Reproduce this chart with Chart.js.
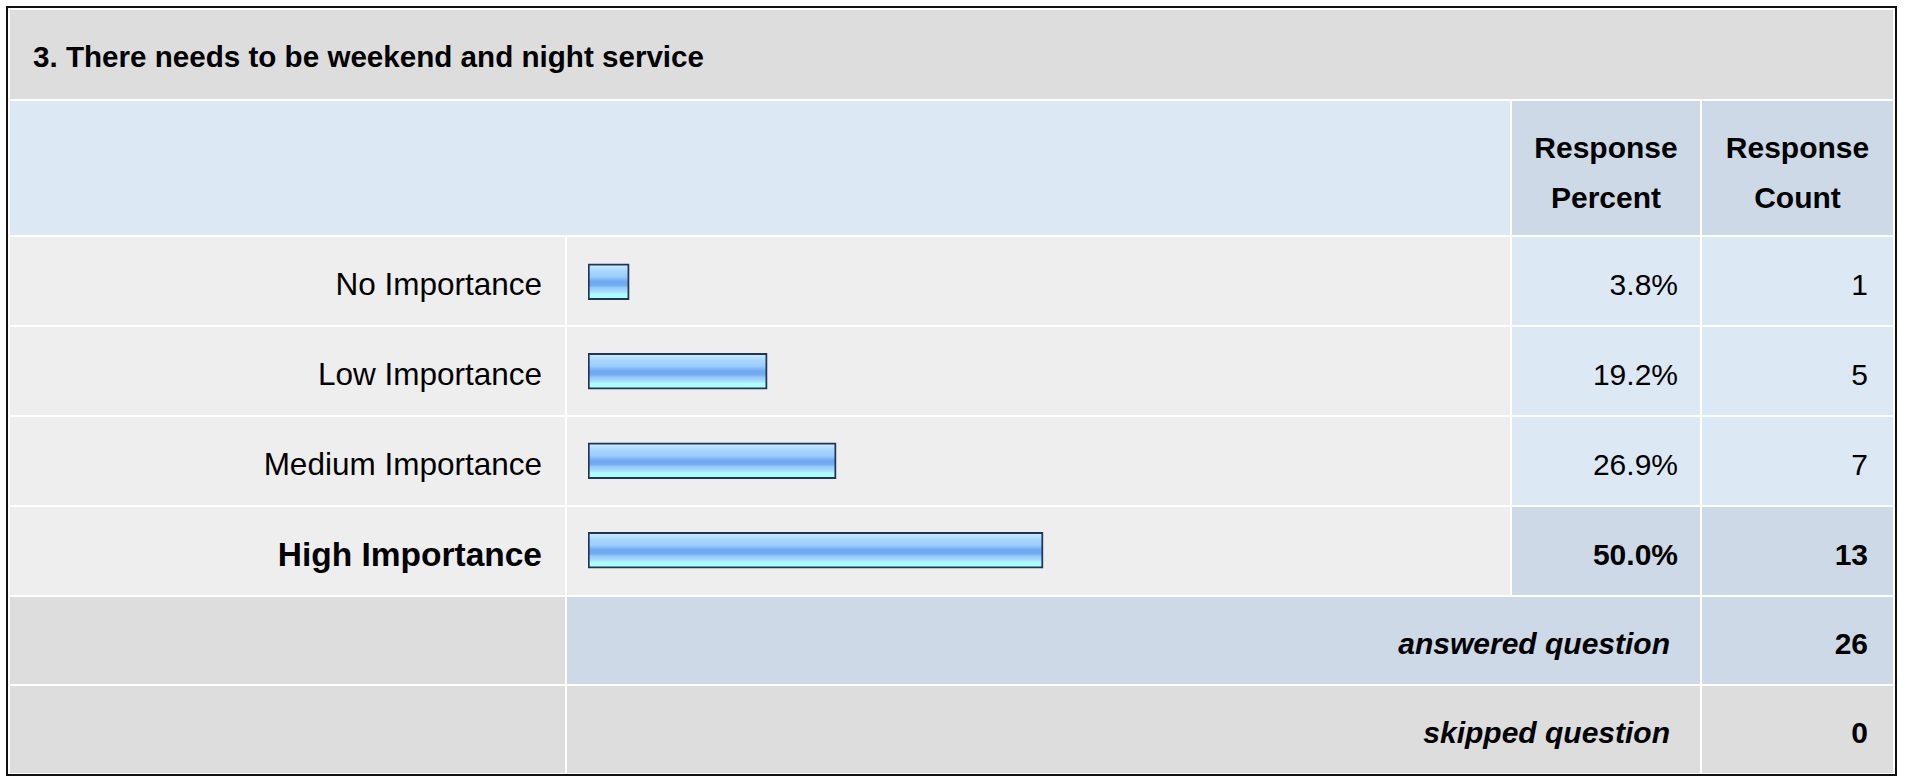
<!DOCTYPE html>
<html>
<head>
<meta charset="utf-8">
<script src="https://cdn.jsdelivr.net/npm/chart.js@4.4.1/dist/chart.umd.min.js"></script>
<style>
  html, body { margin: 0; padding: 0; background: #fff; }
  body { width: 1907px; height: 777px; position: relative; overflow: hidden;
         font-family: "Liberation Sans", Arial, sans-serif; color: #000; }
  #frame { position: absolute; left: 6px; top: 6px; width: 1891px; height: 770px;
           border: 2px solid #111; box-sizing: border-box; }
  .cell { position: absolute; display: flex; align-items: center; box-sizing: border-box;
          font-size: 30px; white-space: nowrap; }
  .right { justify-content: flex-end; }
  .center { justify-content: center; text-align: center; }
  #bars { position: absolute; left: 588px; top: 237px; width: 903px; height: 358px; }
</style>
</head>
<body>
<div id="frame"></div>
<div id="bars"><canvas id="bar-chart"></canvas></div>
<script>
// survey data
const title = "3. There needs to be weekend and night service";
const categories = ["No Importance", "Low Importance", "Medium Importance", "High Importance"];
const percents = [3.8, 19.2, 26.9, 50.0];
const counts = [1, 5, 7, 13];
const answeredCount = 26;
const skippedCount = 0;

// table grid (px)
const colX = [10, 567, 1512, 1702];
const colW = [555, 943, 188, 191];
const rowTop = 237, rowH = 88, rowGap = 2;

const GREY = "#dddddd", LIGHT = "#eeeeee", BLUE = "#dde8f5", DARK = "#cdd9e6";

function cell(x, y, w, h, bg, text, cls, style) {
  const d = document.createElement("div");
  d.className = "cell " + (cls || "");
  d.style.left = x + "px";
  d.style.top = y + "px";
  d.style.width = w + "px";
  d.style.height = h + "px";
  d.style.background = bg;
  if (style) Object.assign(d.style, style);
  if (text !== undefined) d.innerHTML = text;
  document.body.insertBefore(d, document.getElementById("bars"));
  return d;
}

// title + header
cell(10, 10, 1883, 89, GREY, title, "", { fontWeight: "bold", paddingLeft: "23px", paddingTop: "5px", fontSize: "29.6px" });
cell(10, 101, 1500, 134, BLUE);
cell(colX[2], 101, colW[2], 134, DARK, "Response<br>Percent", "center", { fontWeight: "bold", lineHeight: "50px", paddingTop: "9px" });
cell(colX[3], 101, colW[3], 134, DARK, "Response<br>Count", "center", { fontWeight: "bold", lineHeight: "50px", paddingTop: "9px" });

// answer rows (top answer is highlighted)
const maxPct = Math.max(...percents);
categories.forEach((name, i) => {
  const y = rowTop + i * (rowH + rowGap);
  const top = percents[i] === maxPct;
  const fw = top ? "bold" : "normal";
  cell(colX[0], y, colW[0], rowH, LIGHT, name, "right", { paddingRight: "23px", paddingTop: "7px", fontWeight: fw, fontSize: top ? "33.5px" : "31.5px" });
  cell(colX[1], y, colW[1], rowH, LIGHT);
  cell(colX[2], y, colW[2], rowH, top ? DARK : BLUE, percents[i].toFixed(1) + "%", "right", { paddingRight: "22px", paddingTop: "7px", fontWeight: fw });
  cell(colX[3], y, colW[3], rowH, top ? DARK : BLUE, String(counts[i]), "right", { paddingRight: "25px", paddingTop: "7px", fontWeight: fw });
});

// summary rows
const sumY = rowTop + 4 * (rowH + rowGap);
const sumText = { paddingRight: "30px", paddingTop: "6px", fontWeight: "bold", fontStyle: "italic" };
const sumNum = { paddingRight: "25px", paddingTop: "6px", fontWeight: "bold" };
cell(colX[0], sumY, colW[0], 87, GREY);
cell(colX[1], sumY, 1133, 87, DARK, "answered question", "right", sumText);
cell(colX[3], sumY, colW[3], 87, DARK, String(answeredCount), "right", sumNum);
cell(colX[0], sumY + 89, colW[0], 87, GREY);
cell(colX[1], sumY + 89, 1133, 87, GREY, "skipped question", "right", sumText);
cell(colX[3], sumY + 89, colW[3], 87, GREY, String(skippedCount), "right", sumNum);

// bars
const BAR_H = 36;
function barFill(ctx) {
  const chart = ctx.chart;
  const ys = chart.scales && chart.scales.y;
  if (!ys || ctx.dataIndex === undefined) return "#9ccdff";
  const yc = ys.getPixelForValue(ctx.dataIndex);
  if (!isFinite(yc)) return "#9ccdff";
  const g = chart.ctx.createLinearGradient(0, yc - BAR_H / 2, 0, yc + BAR_H / 2);
  g.addColorStop(0.0, "#d4ecff");
  g.addColorStop(0.12, "#bce1ff");
  g.addColorStop(0.2, "#a8d6ff");
  g.addColorStop(0.36, "#9acdff");
  g.addColorStop(0.44, "#7fb6f5");
  g.addColorStop(0.5, "#70a8ef");
  g.addColorStop(0.6, "#74acf1");
  g.addColorStop(0.66, "#92c8fd");
  g.addColorStop(0.74, "#a2d6ff");
  g.addColorStop(0.8, "#abe6ff");
  g.addColorStop(0.84, "#aefcff");
  g.addColorStop(1.0, "#aaffff");
  return g;
}

const barChart = document.querySelector("#bar-chart").getContext("2d");
const myChart = new Chart(barChart, {
  type: "bar",
  data: {
    labels: categories,
    datasets: [
      {
        label: "Response Percent",
        data: percents,
        base: -0.8,
        backgroundColor: barFill,
        borderColor: "#1f3658",
        borderWidth: 2,
        borderSkipped: false,
        barThickness: BAR_H,
      },
    ],
  },
  options: {
    indexAxis: "y",
    responsive: true,
    maintainAspectRatio: false,
    devicePixelRatio: 1,
    animation: false,
    layout: { padding: 0 },
    plugins: { legend: { display: false }, tooltip: { enabled: false } },
    scales: {
      x: { min: -0.8, max: 100, display: false },
      y: { display: false },
    },
  },
});
</script>
</body>
</html>
